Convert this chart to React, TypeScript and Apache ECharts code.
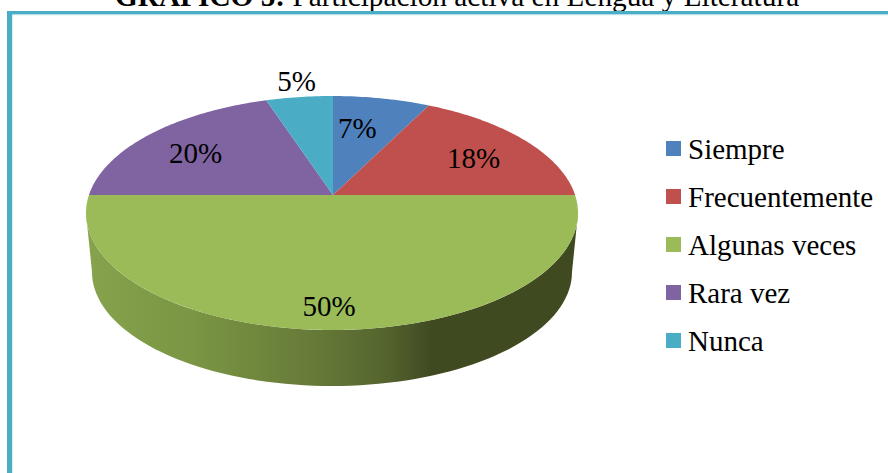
import React, { useEffect, useRef } from "react";
import * as echarts from "echarts";

const CATEGORIES = ["Siempre", "Frecuentemente", "Algunas veces", "Rara vez", "Nunca"];
const VALUES = [7, 18, 50, 20, 5];
const COLORS = ["#4f81bd", "#c0504d", "#9bbb59", "#8064a2", "#4bacc6"];
const PERCENT_LABELS = ["7%", "18%", "50%", "20%", "5%"];
const TITLE_BOLD = "GRÁFICO 5:";
const TITLE_REGULAR = " Participación activa en Lengua y Literatura";

// Projection of the tilted pie (layout, not data)
const FONT = '"Liberation Serif", serif';
const APEX = { x: 333, y: 195 };
const TOP = { cx: 332, cy: 213, rx: 246, ry: 117 };
const BOTTOM = { cx: 332, cy: 272, rx: 240, ry: 114 };
const DIR = { right: 225, left: 215, up: 99, down: 134 };
const LABEL_SCALE = [0.6, 0.74, 0.83, 0.75, 1.17];
const LABEL_NUDGE = [[-5, -9], [0, 2], [-4, 0], [-7, 2], [3, 0]];
const TOTAL = VALUES.reduce((a, b) => a + b, 0);

const direction = (t: number) => {
  const c = Math.cos(t);
  const s = Math.sin(t);
  return { x: s * (s > 0 ? DIR.right : DIR.left), y: -c * (c > 0 ? DIR.up : DIR.down) };
};

// intersection of the ray from the apex with the top ellipse
const rim = (t: number) => {
  const d = direction(t);
  const ax = (APEX.x - TOP.cx) / TOP.rx;
  const ay = (APEX.y - TOP.cy) / TOP.ry;
  const dx = d.x / TOP.rx;
  const dy = d.y / TOP.ry;
  const A = dx * dx + dy * dy;
  const B = 2 * (ax * dx + ay * dy);
  const C = ax * ax + ay * ay - 1;
  const s = (-B + Math.sqrt(B * B - 4 * A * C)) / (2 * A);
  return [APEX.x + s * d.x, APEX.y + s * d.y];
};

const SIDE_STOPS = [
  { offset: 0, color: "#86a24c" },
  { offset: 0.2, color: "#7b9644" },
  { offset: 0.45, color: "#677b38" },
  { offset: 0.6, color: "#55652f" },
  { offset: 0.7, color: "#404a21" },
  { offset: 1, color: "#404a21" },
];

const frontSide = () => {
  const pts: number[][] = [];
  const N = 80;
  for (let i = 0; i <= N; i++) {
    const a = (Math.PI * i) / N;
    pts.push([TOP.cx + TOP.rx * Math.cos(a), TOP.cy + TOP.ry * Math.sin(a)]);
  }
  for (let i = N; i >= 0; i--) {
    const a = (Math.PI * i) / N;
    pts.push([BOTTOM.cx + BOTTOM.rx * Math.cos(a), BOTTOM.cy + BOTTOM.ry * Math.sin(a)]);
  }
  return pts;
};

const makeRender = (index: number) => () => {
  const before = VALUES.slice(0, index).reduce((a, b) => a + b, 0);
  const t0 = (before / TOTAL) * Math.PI * 2;
  const t1 = ((before + VALUES[index]) / TOTAL) * Math.PI * 2;
  const children: any[] = [];
  if (t0 <= Math.PI && t1 >= Math.PI) {
    children.push({
      type: "polygon",
      shape: { points: frontSide() },
      style: {
        fill: new echarts.graphic.LinearGradient(BOTTOM.cx - BOTTOM.rx, 0, TOP.cx + TOP.rx, 0, SIDE_STOPS, true),
      },
    });
  }
  const steps = Math.max(8, Math.ceil((t1 - t0) * 60));
  const face: number[][] = [[APEX.x, APEX.y]];
  for (let i = 0; i <= steps; i++) face.push(rim(t0 + ((t1 - t0) * i) / steps));
  children.push({ type: "polygon", shape: { points: face }, style: { fill: COLORS[index] } });
  const mid = direction((t0 + t1) / 2);
  children.push({
    type: "text",
    z2: 10,
    style: {
      text: PERCENT_LABELS[index],
      x: APEX.x + mid.x * LABEL_SCALE[index] + LABEL_NUDGE[index][0],
      y: APEX.y + mid.y * LABEL_SCALE[index] + LABEL_NUDGE[index][1],
      align: "center",
      verticalAlign: "middle",
      fontFamily: FONT,
      fontSize: 29,
      fill: "#000000",
    },
  });
  return { type: "group", children };
};

export default function App() {
  const ref = useRef<HTMLDivElement>(null);
  useEffect(() => {
    const chart = echarts.init(ref.current!, null, { renderer: "svg" });
    chart.setOption({
      animation: false,
      backgroundColor: "#ffffff",
      legend: {
        orient: "vertical",
        left: 666,
        top: 132,
        padding: 0,
        itemWidth: 15,
        itemHeight: 15,
        itemGap: 15,
        icon: "rect",
        selectedMode: false,
        data: CATEGORIES.map((name, i) => ({ name, itemStyle: { color: COLORS[i] } })),
        textStyle: { fontFamily: FONT, fontSize: 29, color: "#000000", lineHeight: 33, padding: [0, 0, 0, 2] },
      },
      graphic: [
        {
          type: "text",
          x: 115,
          y: -19,
          silent: true,
          style: {
            text: `{b|${TITLE_BOLD}}{r|${TITLE_REGULAR}}`,
            rich: {
              b: { fontFamily: FONT, fontSize: 29.3, fontWeight: "bold", fill: "#000000" },
              r: { fontFamily: FONT, fontSize: 29.3, fill: "#000000" },
            },
          },
        },
        { type: "rect", shape: { x: 7, y: 11, width: 881, height: 3.5 }, style: { fill: "#4bacc6" } },
        { type: "rect", shape: { x: 7, y: 14.5, width: 881, height: 0.7 }, style: { fill: "#c9e6ee" } },
        { type: "rect", shape: { x: 7, y: 11, width: 5.2, height: 462 }, style: { fill: "#4bacc6" } },
      ],
      series: CATEGORIES.map((name, i) => ({
        type: "custom",
        name,
        coordinateSystem: "none",
        silent: true,
        data: [VALUES[i]],
        itemStyle: { color: COLORS[i] },
        renderItem: makeRender(i),
      })),
    });
    return () => chart.dispose();
  }, []);
  return <div ref={ref} style={{ position: "absolute", left: 0, top: 0, width: 888, height: 473 }} />;
}
